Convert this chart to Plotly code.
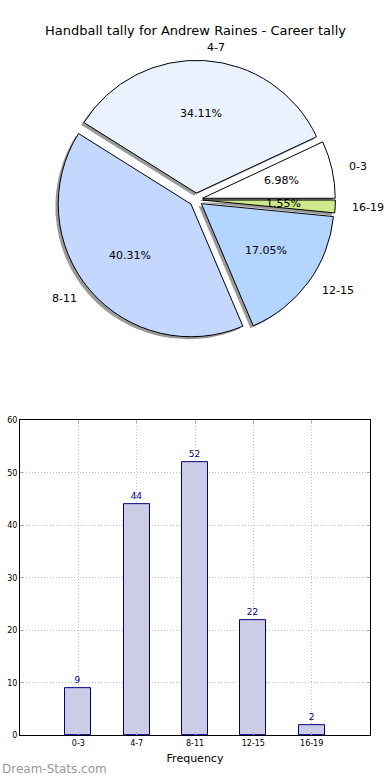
import math
import plotly.graph_objects as go

# ---- data ----
categories = ["0-3", "4-7", "8-11", "12-15", "16-19"]
counts = [9, 44, 52, 22, 2]
pie_colors = ["#ffffff", "#eaf1ff", "#c4d8ff", "#b3d5ff", "#cde98a"]
y_ticks = [0, 10, 20, 30, 40, 50, 60]

title_text = "Handball tally for Andrew Raines - Career tally"
x_title = "Frequency"
watermark = "Dream-Stats.com"

W, H = 390, 780
FONT = "DejaVu Sans"

# ---- pie geometry ----
pull = 0.05
cx_px, cy_px = 196, 198
side = 282.0
r_px = side / (2 * (1 + pull))
dom_x = [(cx_px - side / 2) / W, (cx_px + side / 2) / W]
dom_y = [(H - cy_px - side / 2) / H, (H - cy_px + side / 2) / H]
sdx, sdy = -2.8 / W, -2.5 / H

total = sum(counts)
# first slice starts at 3 o'clock, going counterclockwise
rot = 90 - 360.0 * counts[0] / total

fig = go.Figure()

# shadow
fig.add_trace(go.Pie(
    labels=categories, values=counts, sort=False, direction="counterclockwise",
    rotation=rot, pull=[pull] * len(counts), textinfo="none", hoverinfo="skip",
    marker=dict(colors=["#9a9a9a"] * len(counts), line=dict(width=0)),
    domain=dict(x=[dom_x[0] + sdx, dom_x[1] + sdx], y=[dom_y[0] + sdy, dom_y[1] + sdy]),
    showlegend=False,
))
# main pie
fig.add_trace(go.Pie(
    labels=categories, values=counts, sort=False, direction="counterclockwise",
    rotation=rot, pull=[pull] * len(counts), textinfo="none",
    marker=dict(colors=pie_colors, line=dict(color="black", width=1)),
    domain=dict(x=dom_x, y=dom_y), showlegend=False,
))

# pie texts (percent inside, label outside) from data
cx_p = (dom_x[0] + dom_x[1]) / 2
cy_p = (dom_y[0] + dom_y[1]) / 2
annotations = []
start = 0.0
for lab, v in zip(categories, counts):
    frac = v / total
    mid = math.radians((start + frac / 2) * 360)
    start += frac
    c, s = math.cos(mid), math.sin(mid)
    d = (pull + 0.6) * r_px
    annotations.append(dict(
        x=cx_p + d * c / W, y=cy_p + d * s / H, xref="paper", yref="paper",
        text=f"{frac * 100:.2f}%", showarrow=False, xanchor="center", yanchor="middle",
        font=dict(family=FONT, size=11, color="black"),
    ))
    d = (pull + 1.1) * r_px
    annotations.append(dict(
        x=cx_p + d * c / W, y=cy_p + d * s / H, xref="paper", yref="paper",
        text=lab, showarrow=False, xanchor="left" if c > 0 else "right", yanchor="middle",
        font=dict(family=FONT, size=11, color="black"),
    ))

annotations.append(dict(
    x=0.5, y=1 - 27 / H, xref="paper", yref="paper", text=title_text, showarrow=False,
    xanchor="center", yanchor="middle",
    font=dict(family=FONT, size=13, color="black"),
))
annotations.append(dict(
    x=0.0, y=0.0, xref="paper", yref="paper", text=watermark, showarrow=False,
    xanchor="left", yanchor="bottom", yshift=-3,
    font=dict(family=FONT, size=12, color="#999999"),
))

# bar chart
fig.add_trace(go.Bar(
    x=categories, y=counts, width=0.45, xaxis="x", yaxis="y",
    marker=dict(color="#ccccE6", line=dict(color="#000080", width=1)),
    text=counts, textposition="outside", cliponaxis=False,
    textfont=dict(family=FONT, size=9, color="#000080"), showlegend=False,
))

grid = dict(showgrid=True, gridcolor="#c0c0c0", griddash="1px,2px", gridwidth=1)
fig.update_layout(
    width=W, height=H, margin=dict(l=0, r=0, t=0, b=0),
    paper_bgcolor="white", plot_bgcolor="white",
    xaxis=dict(domain=[20 / W, 370 / W], range=[-1, 5], type="category",
               showline=True, linecolor="black", linewidth=1, mirror="ticks",
               ticks="inside", ticklen=3, tickcolor="#aaaaaa",
               tickfont=dict(family=FONT, size=8, color="black"),
               title=dict(text=x_title, font=dict(family=FONT, size=11, color="black"), standoff=7),
               zeroline=False, **grid),
    yaxis=dict(domain=[1 - 740 / H, 1 - 421 / H], range=[0, 60], tickvals=y_ticks,
               showline=True, linecolor="black", linewidth=1, mirror="ticks",
               ticks="inside", ticklen=3, tickcolor="#aaaaaa",
               tickfont=dict(family=FONT, size=8, color="black"),
               zeroline=False, **grid),
    annotations=annotations,
    bargap=0,
)

fig.write_html("out.html", config={"displayModeBar": False},
               post_script="document.body.style.margin='0';")
